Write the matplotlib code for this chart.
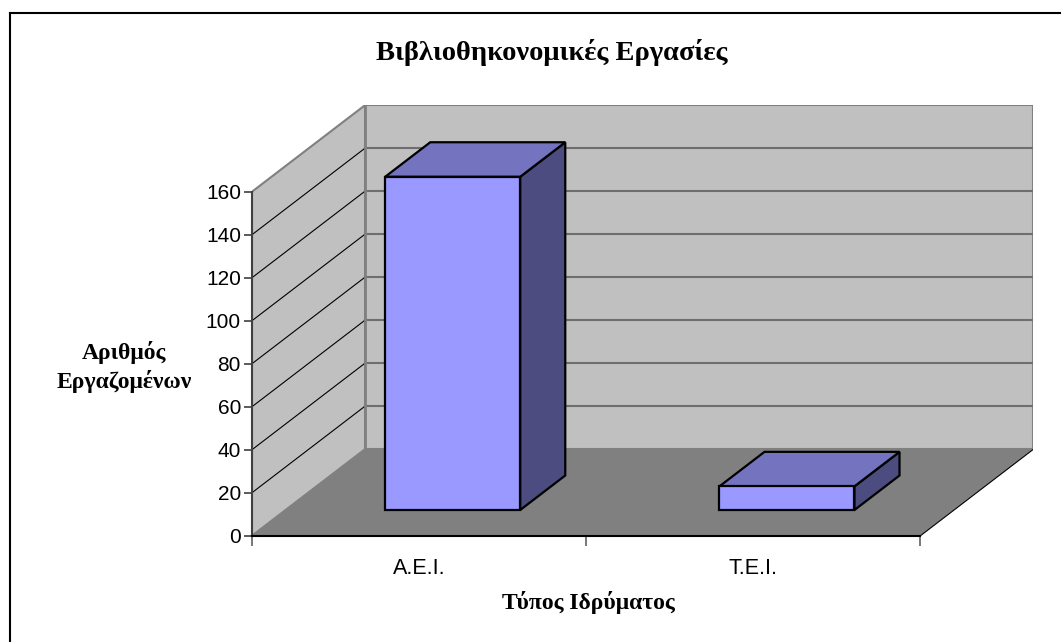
import matplotlib
matplotlib.use("Agg")
import matplotlib.pyplot as plt
from matplotlib.patches import Polygon
from matplotlib.lines import Line2D

# ---- data ----
categories = ["Α.Ε.Ι.", "Τ.Ε.Ι."]
values = [155, 11]
yticks = [0, 20, 40, 60, 80, 100, 120, 140, 160]
title = "Βιβλιοθηκονομικές Εργασίες"
ylabel = "Αριθμός\nΕργαζομένων"
xlabel = "Τύπος Ιδρύματος"

W, H = 1061, 642
fig = plt.figure(figsize=(W / 100, H / 100), dpi=100)
fig.patch.set_facecolor("white")

# front plane: x 0..2 -> px 252..920.5 ; y 0..160 -> px 535.7..191.7
px_x = 334.25
px_y = 2.15
depth_px = (113.0, 86.5)
DX = depth_px[0] / px_x
DY = depth_px[1] / px_y
ymax = yticks[-1]
ncat = len(categories)

x0_px, y0_px = 252.0, 535.7
xlim = (0, ncat + DX)
ylim = (0, ymax + DY)
ax_w = (xlim[1] - xlim[0]) * px_x
ax_h = (ylim[1] - ylim[0]) * px_y
ax = fig.add_axes([x0_px / W, (H - y0_px) / H, ax_w / W, ax_h / H])
ax.set_xlim(*xlim)
ax.set_ylim(*ylim)
ax.patch.set_alpha(0)

wall = "#C0C0C0"
floorc = "#808080"
edge_gray = "#808080"

# back wall
ax.add_patch(Polygon([(DX, DY), (ncat + DX, DY), (ncat + DX, ymax + DY), (DX, ymax + DY)],
                     closed=True, facecolor=wall, edgecolor=edge_gray, lw=1.5, zorder=1))
# left wall
ax.add_patch(Polygon([(0, 0), (DX, DY), (DX, ymax + DY), (0, ymax)],
                     closed=True, facecolor=wall, edgecolor=edge_gray, lw=1.5, zorder=1))
# floor
ax.add_patch(Polygon([(0, 0), (ncat, 0), (ncat + DX, DY), (DX, DY)],
                     closed=True, facecolor=floorc, edgecolor="none", lw=0, zorder=2))
ax.plot([ncat, ncat + DX], [0, DY], color="black", lw=0.8, zorder=2.5)

# gridlines
for t in yticks[1:-1]:
    ax.plot([DX, ncat + DX], [t + DY, t + DY], color="#6E6E6E", lw=1.5, zorder=3)
    ax.plot([0, DX], [t, t + DY], color="black", lw=0.8, zorder=3)
ax.plot([DX, DX], [DY, ymax + DY], color=edge_gray, lw=2, zorder=3)

# bars
f1 = 25.7 / depth_px[1]
f2 = 60.2 / depth_px[1]
bw = 135.0 / px_x
sx, sy = f1 * DX, f1 * DY
bdx, bdy = (f2 - f1) * DX, (f2 - f1) * DY
c_front, c_top, c_side = "#9999FF", "#7373BF", "#4C4C80"
for i, v in enumerate(values):
    xl = i + 0.5 - bw / 2 + sx
    xr = xl + bw
    kw = dict(closed=True, edgecolor="black", lw=1.6, joinstyle="miter", zorder=5)
    ax.add_patch(Polygon([(xr, sy), (xr + bdx, sy + bdy), (xr + bdx, v + sy + bdy), (xr, v + sy)],
                         facecolor=c_side, **kw))
    ax.add_patch(Polygon([(xl, v + sy), (xr, v + sy), (xr + bdx, v + sy + bdy), (xl + bdx, v + sy + bdy)],
                         facecolor=c_top, **kw))
    ax.add_patch(Polygon([(xl, sy), (xr, sy), (xr, v + sy), (xl, v + sy)],
                         facecolor=c_front, **kw))

# axes spines / ticks
for s in ["top", "right"]:
    ax.spines[s].set_visible(False)
ax.spines["left"].set_bounds(0, ymax)
ax.spines["left"].set_color("#404040")
ax.spines["left"].set_linewidth(1.5)
ax.spines["left"].set_zorder(6)
ax.spines["bottom"].set_bounds(0, ncat)
ax.spines["bottom"].set_color("black")
ax.spines["bottom"].set_linewidth(1.5)
ax.spines["bottom"].set_zorder(6)

ax.set_yticks(yticks)
ax.set_yticklabels([str(t) for t in yticks], fontfamily="Liberation Sans", fontsize=15)
ax.tick_params(axis="y", direction="out", length=6, width=1.2, color="#404040", pad=2)
ax.set_xticks(list(range(ncat + 1)))
ax.set_xticklabels([""] * (ncat + 1))
ax.tick_params(axis="x", which="major", direction="out", length=7, width=1.2, color="#606060")
ax.set_xticks([i + 0.5 for i in range(ncat)], minor=True)
ax.set_xticklabels(categories, minor=True, fontfamily="Liberation Sans", fontsize=15.5)
ax.tick_params(axis="x", which="minor", length=0, pad=16)

# texts
fig.text(551.5 / W, 1 - 52 / H, title, ha="center", va="center",
         fontfamily="Liberation Serif", fontweight="bold", fontsize=20.5)
fig.text(124 / W, 1 - 367 / H, ylabel, ha="center", va="center", linespacing=1.35,
         fontfamily="Liberation Serif", fontweight="bold", fontsize=17)
fig.text(588 / W, 1 - 602 / H, xlabel, ha="center", va="center",
         fontfamily="Liberation Serif", fontweight="bold", fontsize=17)

# chart frame (top and left visible)
fig.add_artist(Line2D([10 / W, 1.0], [1 - 13 / H, 1 - 13 / H], color="black", lw=1.5))
fig.add_artist(Line2D([10 / W, 10 / W], [1 - 13 / H, 0.0], color="black", lw=1.5))

fig.savefig("out.png", dpi=100)
